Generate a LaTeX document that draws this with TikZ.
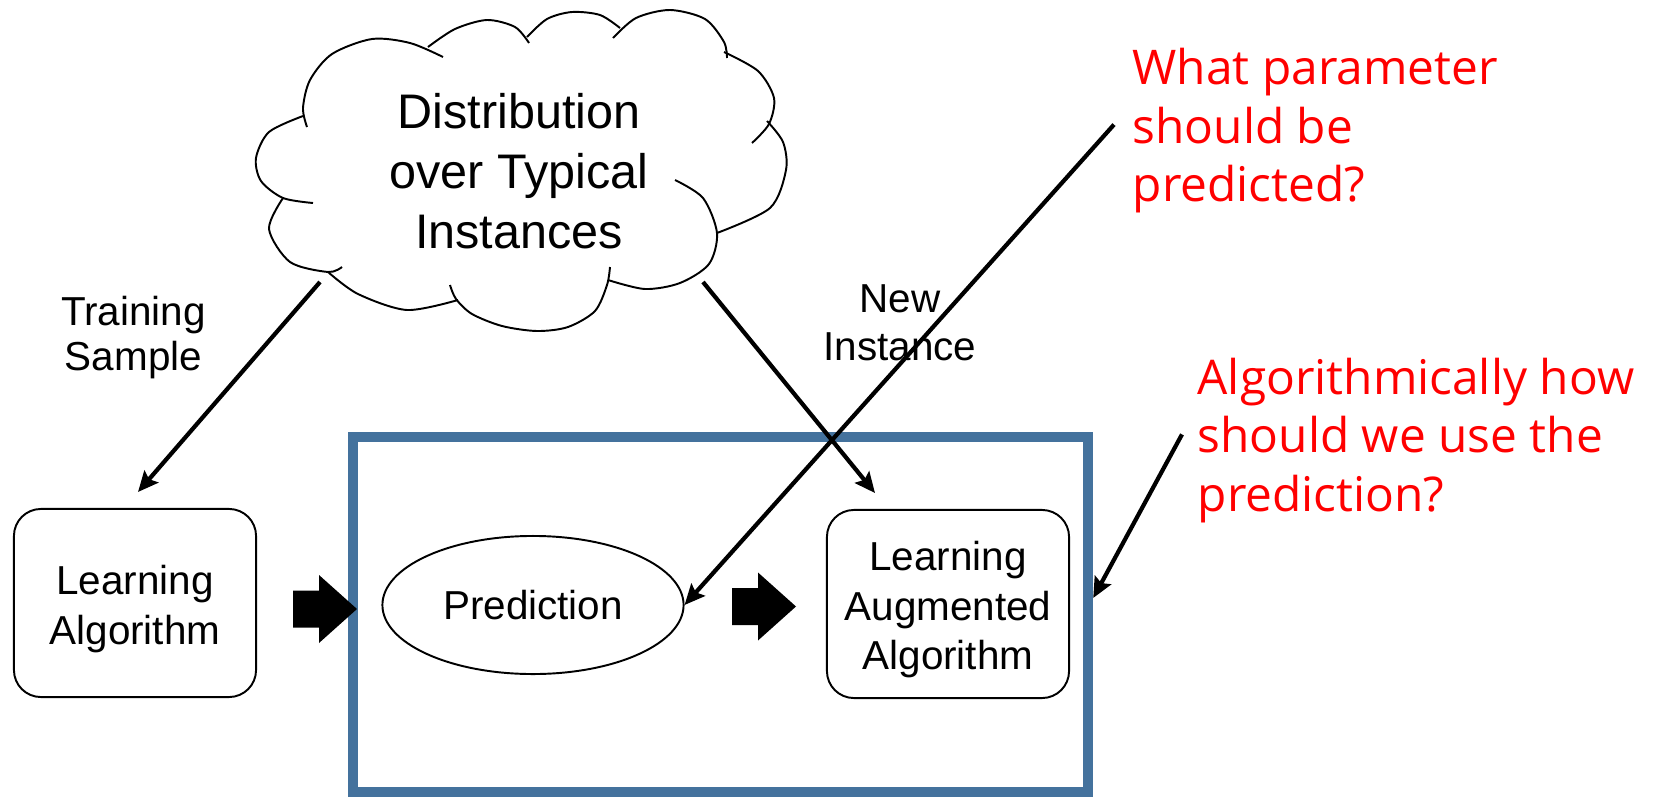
\documentclass[tikz,border=0pt]{standalone}
\usepackage{fontspec}
\setmainfont{Liberation Sans}
\newfontfamily\askfont{Open Sans}
\usetikzlibrary{arrows.meta,shapes.geometric}
\definecolor{frameblue}{RGB}{68,114,157}
\definecolor{askred}{RGB}{255,0,0}
% line struts as in the slide: leading above, descender below
\newcommand\lineopen{\rule{0pt}{\dimexpr\baselineskip-.212em\relax}}
\newcommand\lineclose{\rule[-.212em]{0pt}{.212em}}

\begin{document}
\begin{tikzpicture}[x=0.01cm,y=-0.01cm,
  lbl/.style={inner sep=0pt,align=center},
  rbox/.style={draw,line width=0.55pt,rounded corners=0.27cm,minimum width=2.42cm,minimum height=1.88cm,inner sep=0pt,align=center},
  ask/.style={inner sep=0pt,align=left,anchor=west,text=askred,font=\askfont\fontsize{13.6}{16.7}\selectfont},
  thin/.style={line width=1.2pt,-{Stealth[length=5.8pt,width=5.2pt,inset=1pt]}},
  bump/.style={line width=0.55pt}]
\useasboundingbox (0,0) rectangle (1666,797);
\node[draw=frameblue,line width=2.85pt,minimum width=7.35cm,minimum height=3.55cm,inner sep=0pt] (frame) at (720.5,614.5) {}; % frame
\draw[bump] plot[smooth] coordinates {(307,127) (303,108) (310,80) (332,54) (372,39) (410,43) (443,57)}; % cloud.1
\draw[bump] plot[smooth] coordinates {(428,47) (455,29) (487,20) (515,27) (529,43)}; % cloud.2
\draw[bump] plot[smooth] coordinates {(527,37) (547,19) (572,12) (600,15) (620,28)}; % cloud.3
\draw[bump] plot[smooth] coordinates {(613,38) (636,18) (670,10) (705,19) (724,42) (727,58)}; % cloud.4
\draw[bump] plot[smooth] coordinates {(724,52) (758,71) (774,98) (769,124) (752,143)}; % cloud.5
\draw[bump] plot[smooth] coordinates {(767,121) (783,142) (786,170) (770,208) (717,233)}; % cloud.6
\draw[bump] plot[smooth] coordinates {(675,180) (703,198) (717,233) (709,264) (680,283) (645,289) (608,280)}; % cloud.7
\draw[bump] plot[smooth] coordinates {(610,267) (607,285) (595,311) (568,327) (537,331) (502,326) (472,314) (456,299) (450,285)}; % cloud.8
\draw[bump] plot[smooth] coordinates {(328,272) (358,294) (407,310) (458,300)}; % cloud.9
\draw[bump] plot[smooth] coordinates {(283,198) (269,229) (290,262) (328,272) (342,267)}; % cloud.10
\draw[bump] plot[smooth] coordinates {(313,203) (283,198) (261,181) (256,158) (269,132) (303,116)}; % cloud.11
\node[lbl,font=\fontsize{13.8}{17.07}\selectfont] (dist) at (519,168.3) {\lineopen Distribution\\over Typical\\Instances\lineclose}; % cloud text
\node[lbl,font=\fontsize{11.5}{12.8}\selectfont] (train) at (133.5,333.6) {\lineopen Training\\Sample\lineclose};
\node[lbl,font=\fontsize{11.5}{13.66}\selectfont] (newinst) at (900,320.6) {\lineopen New\\Instance\lineclose};
\node[rbox,font=\fontsize{11.5}{14.2}\selectfont] (lalg) at (135,603) {\lineopen Learning\\Algorithm\lineclose};
\node[draw,ellipse,line width=0.55pt,minimum width=3.01cm,minimum height=1.38cm,inner sep=0pt,font=\fontsize{11.5}{12.85}\selectfont] (pred) at (533,605) {\lineopen Prediction\lineclose};
\node[rbox,font=\fontsize{11.5}{14.05}\selectfont] (laug) at (948,604) {\lineopen Learning\\Augmented\\Algorithm\lineclose};
\node[ask] (q1) at (1132,124.6) {\lineopen What parameter\\should be\\predicted?\lineclose};
\node[ask] (q2) at (1197,434.4) {\lineopen Algorithmically how\\should we use the\\prediction?\lineclose};
\fill (293,590.5) -- (319,590.5) -- (319,575) -- (357,609) -- (319,643) -- (319,627.5) -- (293,627.5) -- cycle; % lalg -> frame
\fill (732,588) -- (758,588) -- (758,572.5) -- (796,606.5) -- (758,640.5) -- (758,625) -- (732,625) -- cycle; % pred -> laug
\coordinate (trainA) at (320,282);
\coordinate (trainB) at (138,492);
\coordinate (newA) at (703,282);
\coordinate (newB) at (875,493);
\draw[thin] (trainA) -- (trainB); % training sample
\draw[thin] (newA) -- (newB); % new instance
\draw[thin] ([xshift=-0.18cm]q1.west) -- (pred.east); % what to predict
\draw[thin] ([xshift=-0.15cm]q2.west) -- ([yshift=0.165cm]frame.east); % how to use it
\end{tikzpicture}
\end{document}
